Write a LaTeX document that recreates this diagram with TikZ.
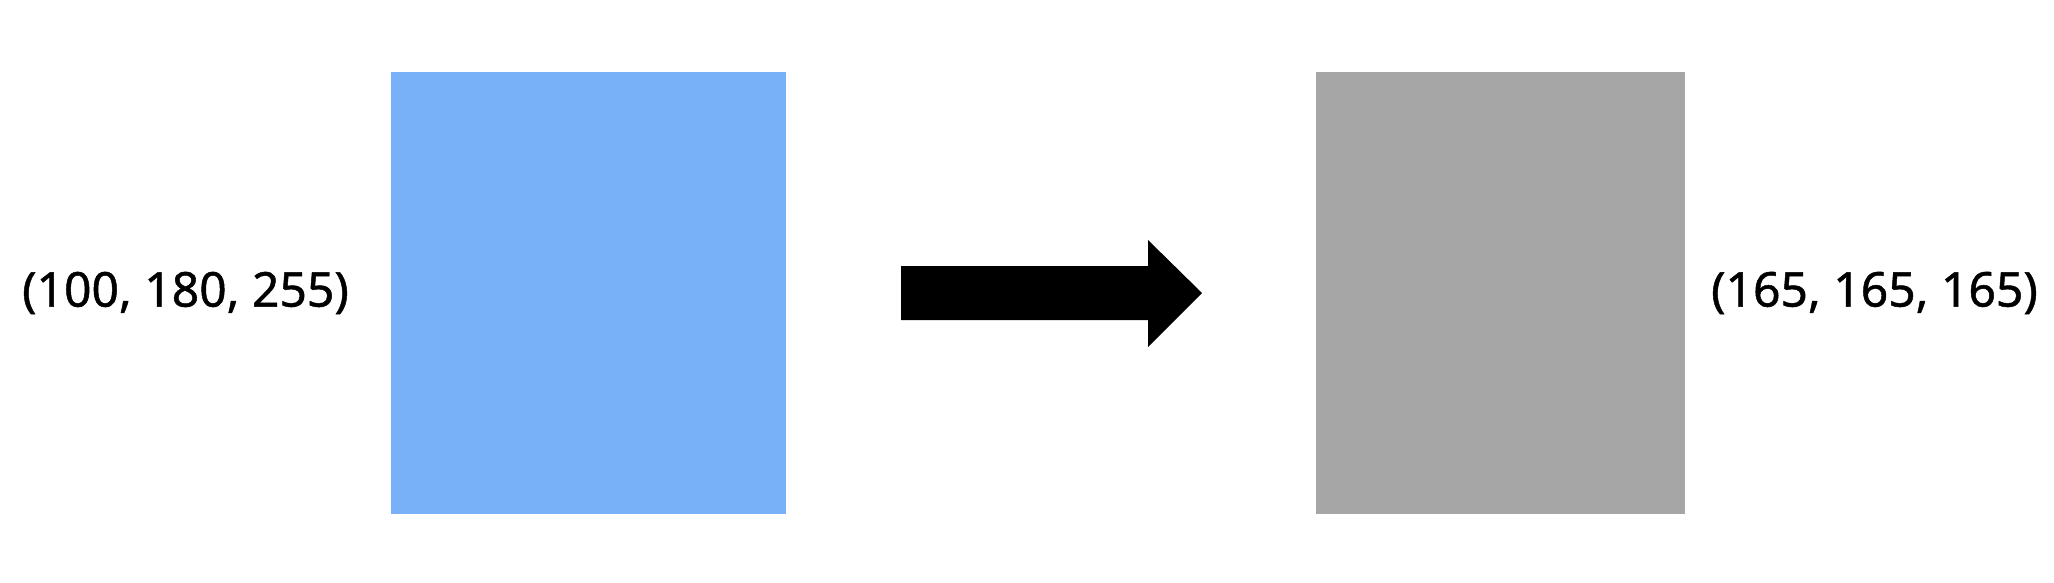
\documentclass[tikz,border=0pt]{standalone}
\usepackage{fontspec}
\setmainfont{Noto Sans}[FakeBold=1]
\definecolor{inblue}{RGB}{120,177,247}
\definecolor{outgray}{RGB}{166,166,166}

\begin{document}
\begin{tikzpicture}[x=1pt, y=-1pt, >=stealth]
        \useasboundingbox (0,0) rectangle (2054,582);
        \tikzset{swatch/.style={inner sep=0pt, outer sep=0pt, minimum height=442pt}, rgblabel/.style={font=\fontsize{48}{56}\selectfont\bfseries, inner sep=0pt}}
        \node[swatch, fill=inblue, minimum width=395pt] (blue) at (588.5, 293) {};
        \node[swatch, fill=outgray, minimum width=369pt] (gray) at (1500.5, 293) {};
        \node[rgblabel, anchor=east] (bluelabel) at (349, 293) {(100, 180, 255)};
        \node[rgblabel, anchor=west] (graylabel) at (1711, 293) {(165, 165, 165)};
        \fill[black]
        (901, 266) -- (1148, 266) -- (1148, 240) -- (1202, 293) -- (1148, 347)
                   -- (1148, 320) -- (901, 320) -- cycle;
      \end{tikzpicture}
\end{document}
